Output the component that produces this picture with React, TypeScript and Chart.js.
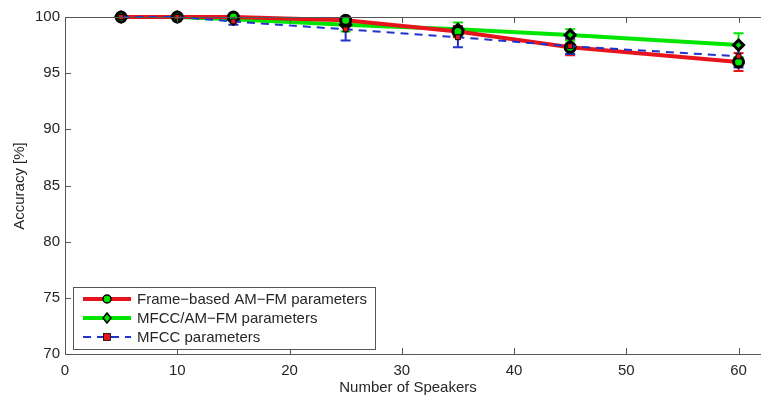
import React, { useEffect, useRef } from "react";
import { Chart, registerables } from "chart.js";

Chart.register(...registerables);

const speakers = [5, 10, 15, 25, 35, 45, 60];
const frameBased = [100, 100, 100, 99.7, 98.7, 97.3, 96.0];
const frameBasedErr = [0, 0, 0.1, 0.3, 0.5, 0.7, 0.8];
const mfccAmfm = [100, 100, 99.8, 99.3, 98.9, 98.4, 97.5];
const mfccAmfmErr = [0, 0, 0.2, 0.6, 0.6, 0.5, 1.05];
const mfcc = [100, 100, 99.6, 98.9, 98.2, 97.4, 96.5];
const mfccErr = [0, 0, 0.3, 1.0, 0.9, 0.7, 1.0];
const seriesNames = ["Frame−based AM−FM parameters", "MFCC/AM−FM parameters", "MFCC parameters"];
const xTicks = [0, 10, 20, 30, 40, 50, 60];
const xTitle = "Number of Speakers";
const yTitle = "Accuracy [%]";

const RED = "#e8141c";
const GREEN = "#00e600";
const BLUE = "#2233cc";
const AXIS = "#555555";
const TEXT = "#262626";
const FONT = "15px 'Liberation Sans', Arial, sans-serif";

const errs = [frameBasedErr, mfccAmfmErr, mfccErr];
const errColors = [RED, GREEN, BLUE];

export default function App() {
  const ref = useRef<HTMLCanvasElement | null>(null);
  useEffect(() => {
    document.body.style.margin = "0";
    const canvas = ref.current!;
    const errorBars = {
      id: "errorBars",
      beforeDatasetsDraw(chart: any) {
        const ctx = chart.ctx;
        const xs = chart.scales.x;
        const ys = chart.scales.y;
        ctx.save();
        chart.data.datasets.forEach((ds: any, i: number) => {
          const e = errs[i];
          ctx.strokeStyle = errColors[i];
          ctx.lineWidth = 2;
          ds.data.forEach((p: any, j: number) => {
            if (!e[j]) return;
            const x = xs.getPixelForValue(p.x);
            const y1 = ys.getPixelForValue(p.y - e[j]);
            const y2 = ys.getPixelForValue(p.y + e[j]);
            ctx.beginPath();
            ctx.moveTo(x, y1);
            ctx.lineTo(x, y2);
            ctx.moveTo(x - 5, y1);
            ctx.lineTo(x + 5, y1);
            ctx.moveTo(x - 5, y2);
            ctx.lineTo(x + 5, y2);
            ctx.stroke();
          });
        });
        ctx.restore();
      },
      afterDraw(chart: any) {
        const ctx = chart.ctx;
        const a = chart.chartArea;
        const xs = chart.scales.x;
        const ys = chart.scales.y;
        ctx.save();
        ctx.strokeStyle = AXIS;
        ctx.lineWidth = 1;
        ctx.beginPath();
        ctx.moveTo(a.left + 0.5, a.top + 0.5);
        ctx.lineTo(a.right, a.top + 0.5);
        ctx.moveTo(a.left + 0.5, a.top);
        ctx.lineTo(a.left + 0.5, a.bottom + 0.5);
        ctx.lineTo(a.right, a.bottom + 0.5);
        xTicks.forEach((t) => {
          const x = Math.round(xs.getPixelForValue(t)) + 0.5;
          ctx.moveTo(x, a.bottom);
          ctx.lineTo(x, a.bottom - 6);
          ctx.moveTo(x, a.top);
          ctx.lineTo(x, a.top + 6);
        });
        for (let v = 70; v <= 100; v += 5) {
          const y = Math.round(ys.getPixelForValue(v)) + 0.5;
          ctx.moveTo(a.left, y);
          ctx.lineTo(a.left + 6, y);
        }
        ctx.stroke();
        ctx.fillStyle = TEXT;
        ctx.font = FONT;
        ctx.textAlign = "center";
        ctx.textBaseline = "middle";
        ctx.fillText(xTitle, 408, 388);
        ctx.save();
        ctx.translate(20, 186);
        ctx.rotate(-Math.PI / 2);
        ctx.fillText(yTitle, 0, 0);
        ctx.restore();
        const bx = 73, by = 287, bw = 302, bh = 62;
        ctx.fillStyle = "#ffffff";
        ctx.fillRect(bx, by, bw, bh);
        ctx.strokeStyle = AXIS;
        ctx.strokeRect(bx + 0.5, by + 0.5, bw, bh);
        const rows = [299, 318, 337];
        const colors = [RED, GREEN, BLUE];
        rows.forEach((ry, i) => {
          ctx.strokeStyle = colors[i];
          ctx.lineWidth = i === 2 ? 2 : 4;
          ctx.setLineDash(i === 2 ? [8, 6] : []);
          ctx.beginPath();
          ctx.moveTo(83, ry);
          ctx.lineTo(131, ry);
          ctx.stroke();
          ctx.setLineDash([]);
          ctx.lineWidth = 1.5;
          ctx.strokeStyle = "#000";
          if (i === 0) {
            ctx.fillStyle = GREEN;
            ctx.beginPath();
            ctx.arc(107, ry, 4, 0, Math.PI * 2);
            ctx.fill();
            ctx.stroke();
          } else if (i === 1) {
            ctx.fillStyle = GREEN;
            ctx.beginPath();
            ctx.moveTo(107, ry - 5);
            ctx.lineTo(111, ry);
            ctx.lineTo(107, ry + 5);
            ctx.lineTo(103, ry);
            ctx.closePath();
            ctx.fill();
            ctx.stroke();
          } else {
            ctx.fillStyle = RED;
            ctx.fillRect(103.5, ry - 3.5, 7, 7);
            ctx.lineWidth = 0.8;
            ctx.strokeRect(103.5, ry - 3.5, 7, 7);
          }
          ctx.fillStyle = TEXT;
          ctx.font = FONT;
          ctx.textAlign = "left";
          ctx.fillText(seriesNames[i], 137, ry + 1);
        });
        ctx.restore();
      },
    };

    const toPts = (arr: number[]) => speakers.map((x, i) => ({ x, y: arr[i] }));

    const chart = new Chart(canvas, {
      type: "line",
      data: {
        datasets: [
          {
            label: seriesNames[0],
            data: toPts(frameBased),
            borderColor: RED,
            borderWidth: 4,
            pointStyle: "circle",
            pointRadius: 5,
            pointBackgroundColor: GREEN,
            pointBorderColor: "#000",
            pointBorderWidth: 3,
            clip: false,
            order: 1,
          },
          {
            label: seriesNames[1],
            data: toPts(mfccAmfm),
            borderColor: GREEN,
            borderWidth: 4,
            pointStyle: "rectRot",
            pointRadius: 5,
            pointBackgroundColor: GREEN,
            pointBorderColor: "#000",
            pointBorderWidth: 3,
            clip: false,
            order: 2,
          },
          {
            label: seriesNames[2],
            data: toPts(mfcc),
            borderColor: BLUE,
            borderWidth: 2,
            borderDash: [8, 6],
            pointStyle: "rect",
            pointRadius: 3.5,
            pointBackgroundColor: RED,
            pointBorderColor: "#000",
            pointBorderWidth: 1,
            clip: false,
            order: 0,
          },
        ],
      },
      options: {
        animation: false,
        responsive: false,
        maintainAspectRatio: false,
        layout: { autoPadding: false, padding: { top: 17, right: 0, left: 0, bottom: 0 } },
        plugins: { legend: { display: false }, tooltip: { enabled: false } },
        scales: {
          x: {
            type: "linear",
            min: 0,
            max: 62,
            grid: { display: false, drawTicks: false, tickLength: 0 },
            border: { display: false },
            ticks: {
              stepSize: 10,
              color: TEXT,
              font: { family: "'Liberation Sans', Arial, sans-serif", size: 15 },
              padding: 8,
              maxRotation: 0,
            },
            afterBuildTicks: (s: any) => {
              s.ticks = xTicks.map((v) => ({ value: v }));
            },
            afterFit: (s: any) => {
              s.height = 44;
              s.paddingLeft = 0;
              s.paddingRight = 0;
            },
          },
          y: {
            min: 70,
            max: 100,
            grid: { display: false, drawTicks: false, tickLength: 0 },
            border: { display: false },
            ticks: {
              stepSize: 5,
              color: TEXT,
              font: { family: "'Liberation Sans', Arial, sans-serif", size: 15 },
              padding: 5,
            },
            afterFit: (s: any) => {
              s.width = 65;
              s.paddingTop = 0;
              s.paddingBottom = 0;
            },
          },
        },
      },
      plugins: [errorBars],
    } as any);
    return () => chart.destroy();
  }, []);
  return <canvas ref={ref} width={761} height={398} style={{ display: "block" }} />;
}
